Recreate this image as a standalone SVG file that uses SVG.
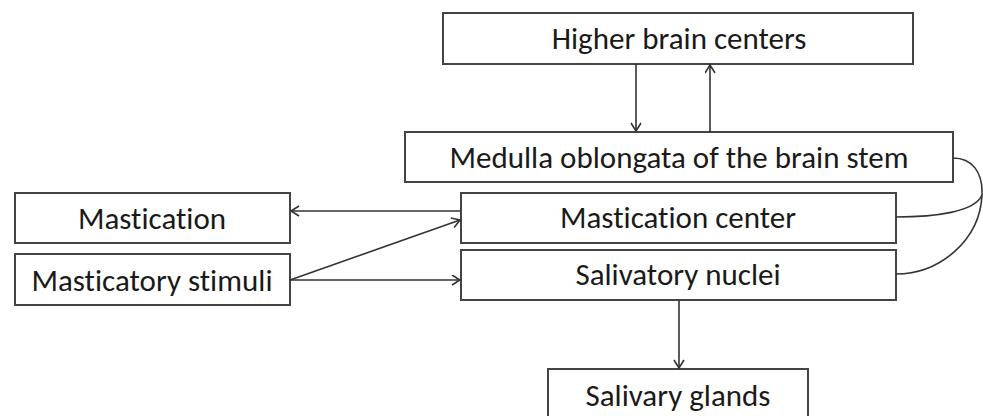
<svg xmlns="http://www.w3.org/2000/svg" width="983" height="416" viewBox="0 0 983 416">
<style>
.box{fill:#fff;stroke:#444;stroke-width:2}
.lbl{font-family:Carlito,Calibri,Lato,"Open Sans",sans-serif;font-size:31px;fill:#1a1a1a;text-anchor:middle;font-variant-ligatures:none}
.con{fill:none;stroke:#333;stroke-width:1.6}
</style>
<defs>
<marker id="ah" markerUnits="userSpaceOnUse" markerWidth="12" markerHeight="12" refX="9" refY="5.5" orient="auto" viewBox="0 0 12 12">
<path d="M1,0.5 L9,5.5 L1,10.5" fill="none" stroke="#333" stroke-width="1.6"/>
</marker>
</defs>
<rect width="983" height="416" fill="#fff"/>
<g id="higher"><rect class="box" x="443" y="13" width="470" height="51"/><text class="lbl" x="679" y="49">Higher brain centers</text></g>
<g id="medulla"><rect class="box" x="405" y="132" width="548" height="50"/><text class="lbl" x="679" y="168">Medulla oblongata of the brain stem</text></g>
<g id="mastcenter"><rect class="box" x="461" y="193" width="435" height="50"/><text class="lbl" x="678" y="228">Mastication center</text></g>
<g id="salnuclei"><rect class="box" x="461" y="250" width="435" height="50"/><text class="lbl" x="678" y="285">Salivatory nuclei</text></g>
<g id="mastication"><rect class="box" x="15" y="193" width="275" height="50"/><text class="lbl" x="152" y="229">Mastication</text></g>
<g id="stimuli"><rect class="box" x="15" y="254" width="275" height="51"/><text class="lbl" x="152" y="291">Masticatory stimuli</text></g>
<g id="glands"><rect class="box" x="548" y="369" width="260" height="60"/><text class="lbl" x="678" y="406">Salivary glands</text></g>
<g id="connectors">
<line class="con" x1="636" y1="64" x2="636" y2="131" marker-end="url(#ah)"/>
<line class="con" x1="710" y1="132" x2="710" y2="65" marker-end="url(#ah)"/>
<line class="con" x1="461" y1="211" x2="291" y2="211" marker-end="url(#ah)"/>
<line class="con" x1="290" y1="280" x2="460" y2="220" marker-end="url(#ah)"/>
<line class="con" x1="290" y1="280" x2="460" y2="280" marker-end="url(#ah)"/>
<line class="con" x1="679" y1="300" x2="679" y2="368" marker-end="url(#ah)"/>
<path class="con" d="M953,158 C972,158 983,172 982,195 C980,240 940,274 896,274"/>
<path class="con" d="M982,195 C975,212 935,217 896,217"/>
</g>
</svg>
